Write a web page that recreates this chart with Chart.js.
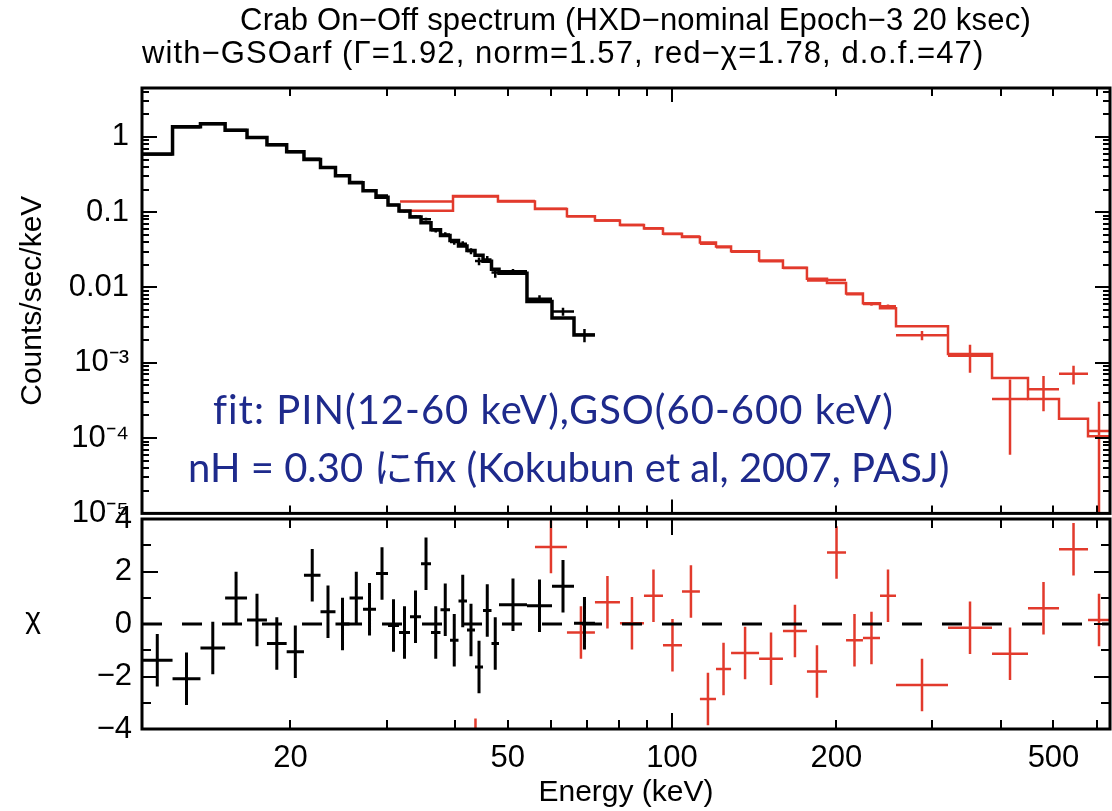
<!DOCTYPE html>
<html>
<head>
<meta charset="utf-8">
<script src="https://cdn.jsdelivr.net/npm/chart.js@4.4.1/dist/chart.umd.min.js"></script>
<style>
  html, body { margin: 0; padding: 0; background: #fff; }
  #wrap { position: relative; width: 1112px; height: 811px; overflow: hidden; font-family: "Liberation Sans", Arial, sans-serif; }
  .ttl { position: absolute; font-size: 31px; line-height: 31px; color: #000; white-space: nowrap; }
  #t1 { left: 0; width: 1271px; text-align: center; top: 4px; letter-spacing: 0.2px; }
  #t2 { left: 142px; top: 37px; letter-spacing: 1.1px; }
  #chi { position: absolute; left: 0; width: 66px; text-align: center; top: 603px; font-size: 30px; line-height: 30px; }
  .note { position: absolute; font-family: Lato, "Noto Sans CJK JP", sans-serif; color: #1e2a8c; font-size: 40px; line-height: 40px; white-space: nowrap; }
  #n1 { left: 213px; top: 389px; letter-spacing: 1px; }
  #n2 { left: 188px; top: 447px; }
</style>
</head>
<body>
<div id="wrap">
  <canvas id="topChart" width="1112" height="545" style="position:absolute;left:0;top:0"></canvas>
  <canvas id="botChart" width="1112" height="331" style="position:absolute;left:0;top:480px"></canvas>
  <div class="ttl" id="t1">Crab On−Off spectrum (HXD−nominal Epoch−3 20 ksec)</div>
  <div class="ttl" id="t2">with−GSOarf (Γ=1.92, norm=1.57, red−χ=1.78, d.o.f.=47)</div>
  <div id="chi">χ</div>
  <div class="note" id="n1">fit: PIN(12-60 keV),GSO(60-600 keV)</div>
  <div class="note" id="n2">nH = 0.30 にfix (Kokubun et al, 2007, PASJ)</div>
</div>
<script>
// energy range of the plot (keV)
const xMin = 10.69;
const xMax = 634.6;

// PIN (black) bins: edges in keV, model, data, 1-sigma error (counts/sec/keV), residual chi
const pinEdges = [10.69, 12.16, 13.68, 15.18, 16.65, 18.11, 19.68, 21.17, 22.70, 24.18,
  25.66, 27.16, 28.69, 30.18, 31.61, 33.11, 34.69, 36.18, 37.66, 39.20,
  40.63, 42.11, 43.56, 45.06, 46.70, 48.20, 54.24, 60.28, 66.14, 72.25];
const pinModel = [0.594, 1.368, 1.497, 1.224, 0.982, 0.786, 0.637, 0.500, 0.393, 0.304,
  0.246, 0.193, 0.158, 0.125, 0.104, 0.0865, 0.0722, 0.0585, 0.0489, 0.0421,
  0.0356, 0.0311, 0.0268, 0.0223, 0.0175, 0.0155, 0.0065, 0.00394, 0.00234];
const pinData = [0.582, 1.345, 1.486, 1.235, 0.984, 0.780, 0.629, 0.513, 0.396, 0.304,
  0.251, 0.196, 0.167, 0.125, 0.1027, 0.0876, 0.0805, 0.0574, 0.0507, 0.0401,
  0.0382, 0.0305, 0.0224, 0.0236, 0.0158, 0.0164, 0.0071, 0.0048, 0.00235];
const pinErr = [0.009, 0.011, 0.012, 0.011, 0.010, 0.0087, 0.0076, 0.007, 0.0063, 0.0058,
  0.0054, 0.005, 0.0047, 0.0044, 0.0042, 0.0039, 0.0036, 0.0035, 0.0034, 0.0032,
  0.003, 0.0028, 0.0027, 0.0025, 0.0023, 0.0012, 0.0008, 0.0006, 0.00047];
const pinChi = [-1.38, -2.09, -0.91, 0.99, 0.15, -0.74, -1.06, 1.86, 0.47, 0.0,
  0.99, 0.56, 1.92, -0.06, -0.32, 0.28, 2.3, -0.32, 0.54, -0.62,
  0.88, -0.23, -1.64, 0.51, -0.74, 0.73, 0.7, 1.44, 0.03];

// GSO (red) bins
const gsoEdges = [31.75, 39.70, 47.99, 56.10, 64.20, 72.25, 80.29, 88.85, 96.27, 104.3,
  112.5, 120.4, 128.3, 144.4, 159.7, 176.7, 192.3, 208.4, 223.8, 240.5,
  257.3, 320.4, 385.8, 449.0, 511.8, 578.4, 634.6];
const gsoModel = [0.1047, 0.164, 0.1389, 0.110, 0.0884, 0.0774, 0.0674, 0.0609, 0.0519, 0.0470,
  0.0396, 0.0351, 0.0302, 0.0228, 0.0183, 0.0131, 0.0115, 0.00835, 0.00618, 0.00531,
  0.00306, 0.00131, 0.000627, 0.000330, 0.000181, 0.000106];
const gsoData = [0.1389, 0.1622, 0.1409, 0.1115, 0.0882, 0.0778, 0.0674, 0.0614, 0.0515, 0.0476,
  0.0382, 0.0342, 0.0298, 0.0223, 0.0182, 0.0124, 0.0126, 0.00816, 0.00602, 0.00563,
  0.00232, 0.00124, 0.00033, 0.000447, 0.000716, 0.000124];
const gsoErr = [0.0008, 0.0004, 0.0004, 0.0005, 0.0005, 0.0005, 0.0005, 0.0005, 0.0005, 0.0005,
  0.0005, 0.0005, 0.0004, 0.0004, 0.0004, 0.0004, 0.0004, 0.0003, 0.0003, 0.0003,
  0.00032, 0.0005, 0.00027, 0.00022, 0.0002, 0.00018];
const gsoChi = [9.0, -4.6, 4.97, 2.93, -0.32, 0.83, 0.03, 1.08, -0.81, 1.24,
  -2.86, -1.71, -1.1, -1.32, -0.27, -1.81, 2.72, -0.62, -0.53, 1.08,
  -2.32, -0.14, -1.13, 0.6, 2.85, 0.15];

// axis ticks
const specTickVals = [1, 0.1, 0.01, 1e-3, 1e-4, 1e-5];
const specTickText = ["1", "0.1", "0.01", "10⁻³", "10⁻⁴", "10⁻⁵"];
const specMinor = [];
[1e-5, 1e-4, 1e-3, 0.01, 0.1, 1].forEach(d => { for (let k = 2; k <= 9; k++) if (d * k < 4.46) specMinor.push(d * k); });
const chiTickVals = [-4, -2, 0, 2, 4];
const chiMinor = [-3, -1, 1, 3];
const energyTickVals = [20, 50, 100, 200, 500];
const energyMajor = [100];
const energyMinor = [20, 30, 40, 50, 60, 70, 80, 90, 200, 300, 400, 500, 600];

const RED = "#e23a2c";
const FONT = "'Liberation Sans', Arial, sans-serif";
Chart.defaults.font.family = FONT;
Chart.defaults.color = "#000";

// horizontal bar over the bin + vertical error bar at the (log) bin centre
function crosses(edges, vals, errs) {
  const pts = [];
  vals.forEach((v, i) => {
    const lo = edges[i], hi = edges[i + 1], c = Math.sqrt(lo * hi);
    pts.push({ x: lo, y: v }, { x: hi, y: v }, { x: hi, y: null });
    pts.push({ x: c, y: v - errs[i] }, { x: c, y: v + errs[i] }, { x: c, y: null });
  });
  return pts;
}
// same on a log axis: keep the lower end positive
function logCrosses(edges, vals, errs) {
  return crosses(edges, vals, errs).map(p => (p.y !== null && p.y <= 0 ? { x: p.x, y: 1e-9 } : p));
}
// histogram: one point per bin edge, the last edge repeats the last value
function steps(edges, vals) {
  return edges.map((e, i) => ({ x: e, y: vals[Math.min(i, vals.length - 1)] }));
}
const ones = n => new Array(n).fill(1);

// frame + inward tick marks on all four sides
const frameTicks = {
  id: "frameTicks",
  afterDraw(chart, args, o) {
    const { ctx, chartArea: a } = chart;
    const sx = chart.scales.x, sy = chart.scales.y;
    ctx.save();
    ctx.strokeStyle = "#000";
    ctx.lineWidth = 2;
    ctx.beginPath();
    const xt = (vals, len) => vals.forEach(v => {
      const p = Math.round(sx.getPixelForValue(v));
      ctx.moveTo(p, a.top); ctx.lineTo(p, a.top + len);
      ctx.moveTo(p, a.bottom); ctx.lineTo(p, a.bottom - len);
    });
    const yt = (vals, len) => vals.forEach(v => {
      const p = Math.round(sy.getPixelForValue(v));
      ctx.moveTo(a.left, p); ctx.lineTo(a.left + len, p);
      ctx.moveTo(a.right, p); ctx.lineTo(a.right - len, p);
    });
    xt(o.xMinor, o.xMinorLen); xt(o.xMajor, o.xMajorLen);
    yt(o.yMinor, o.yMinorLen); yt(o.yMajor, o.yMajorLen);
    ctx.stroke();
    ctx.lineWidth = 3;
    ctx.strokeRect(a.left, a.top, a.right - a.left, a.bottom - a.top);
    ctx.restore();
  }
};

const lineDs = (data, color, width, extra) => Object.assign({
  data: data, borderColor: color, borderWidth: width, pointRadius: 0,
  fill: false, spanGaps: false, tension: 0
}, extra || {});

// ---- spectrum panel
new Chart(document.getElementById("topChart"), {
  type: "line",
  data: {
    datasets: [
      lineDs(logCrosses(pinEdges, pinData, pinErr), "#000", 2.5),
      lineDs(steps(pinEdges, pinModel), "#000", 3.5, { stepped: "before" }),
      lineDs(logCrosses(gsoEdges, gsoData, gsoErr), RED, 2.5),
      lineDs(steps(gsoEdges, gsoModel), RED, 2.5, { stepped: "before" })
    ]
  },
  options: {
    responsive: false,
    animation: false,
    events: [],
    layout: { padding: { top: 88, right: 2, bottom: 26, left: 0 } },
    plugins: {
      legend: { display: false },
      tooltip: { enabled: false },
      frameTicks: {
        xMajor: energyMajor, xMinor: energyMinor, xMajorLen: 14, xMinorLen: 8,
        yMajor: specTickVals, yMinor: specMinor, yMajorLen: 15, yMinorLen: 7
      }
    },
    scales: {
      x: { type: "logarithmic", min: xMin, max: xMax, display: false },
      y: {
        type: "logarithmic", min: 1e-5, max: 4.46,
        grid: { display: false, drawTicks: false },
        border: { display: false },
        afterFit: s => { s.width = 142; },
        afterBuildTicks: s => { s.ticks = specTickVals.map(v => ({ value: v })); },
        ticks: {
          autoSkip: false, padding: 13, color: "#000",
          font: { size: 31 },
          callback: v => specTickText[specTickVals.indexOf(v)]
        },
        title: {
          display: true, text: "Counts/sec/keV", color: "#000",
          font: { size: 30 }, padding: { top: 15, bottom: 0 }
        }
      }
    }
  },
  plugins: [frameTicks]
});

// ---- residual panel
new Chart(document.getElementById("botChart"), {
  type: "line",
  data: {
    datasets: [
      lineDs([{ x: xMin, y: 0 }, { x: xMax, y: 0 }], "#000", 3, { borderDash: [20, 20] }),
      lineDs(crosses(pinEdges, pinChi, ones(pinChi.length)), "#000", 3),
      lineDs(crosses(gsoEdges, gsoChi, ones(gsoChi.length)), RED, 2.5)
    ]
  },
  options: {
    responsive: false,
    animation: false,
    events: [],
    layout: { padding: { top: 39, right: 2, bottom: 0, left: 0 } },
    plugins: {
      legend: { display: false },
      tooltip: { enabled: false },
      frameTicks: {
        xMajor: energyMajor, xMinor: energyMinor, xMajorLen: 16, xMinorLen: 9,
        yMajor: chiTickVals, yMinor: chiMinor, yMajorLen: 16, yMinorLen: 9
      }
    },
    scales: {
      x: {
        type: "logarithmic", min: xMin, max: xMax,
        grid: { display: false, drawTicks: false },
        border: { display: false },
        afterFit: s => { s.height = 82; },
        afterBuildTicks: s => { s.ticks = energyTickVals.map(v => ({ value: v })); },
        ticks: {
          autoSkip: false, maxRotation: 0, padding: 11, color: "#000",
          font: { size: 31 },
          callback: v => String(v)
        },
        title: {
          display: true, text: "Energy (keV)", color: "#000",
          font: { size: 30 }, padding: { top: 0, bottom: 0 }
        }
      },
      y: {
        type: "linear", min: -4, max: 4,
        grid: { display: false, drawTicks: false },
        border: { display: false },
        afterFit: s => { s.width = 142; },
        afterBuildTicks: s => { s.ticks = chiTickVals.map(v => ({ value: v })); },
        ticks: {
          autoSkip: false, padding: 10, color: "#000",
          font: { size: 31 },
          callback: v => (v < 0 ? "−" + Math.abs(v) : String(v))
        }
      }
    }
  },
  plugins: [frameTicks]
});
</script>
</body>
</html>
